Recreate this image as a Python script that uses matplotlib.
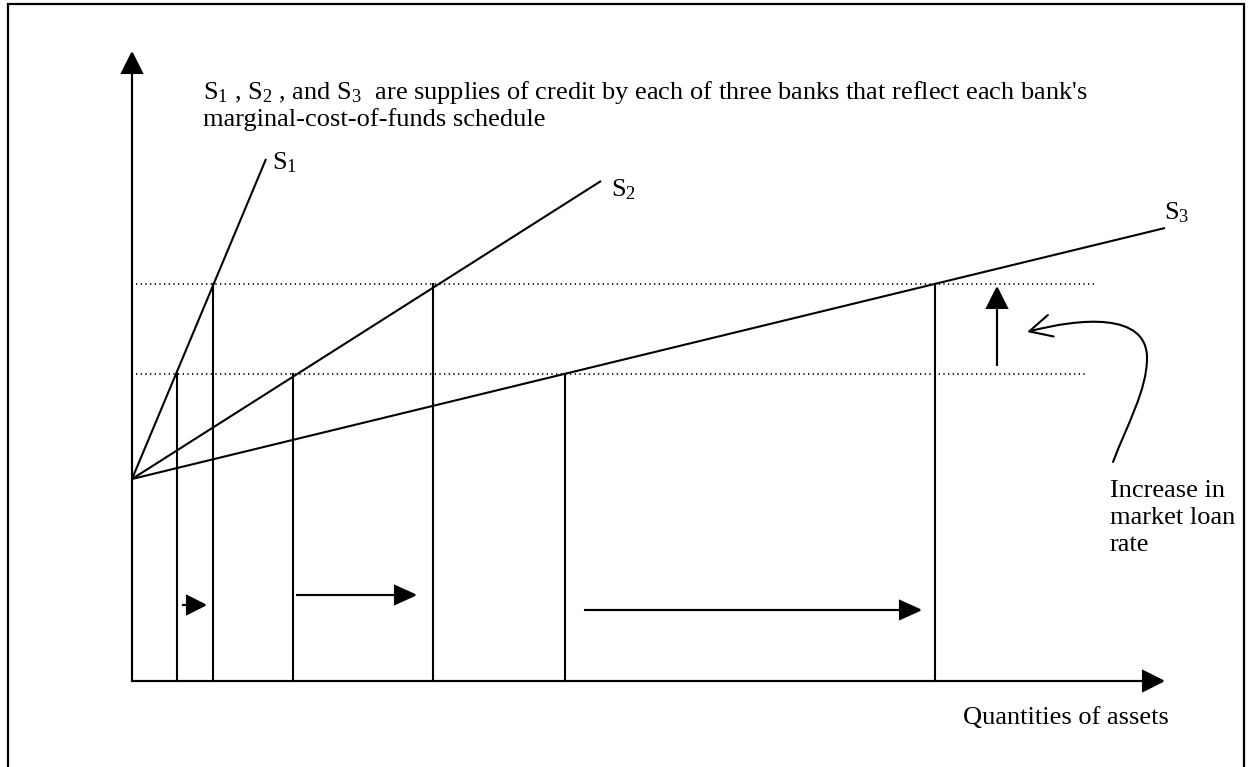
import matplotlib
matplotlib.use("Agg")
import matplotlib.pyplot as plt
from matplotlib.patches import FancyArrowPatch, Rectangle
from matplotlib.path import Path

plt.rcParams['font.family'] = ['Liberation Serif', 'DejaVu Serif']
plt.rcParams['mathtext.fontset'] = 'custom'
plt.rcParams['mathtext.rm'] = 'Liberation Serif'
plt.rcParams['mathtext.it'] = 'Liberation Serif:italic'

# ---- diagram data (units: quantity to the right, rate upward, origin at axes corner) ----
rate_axis_top = 628
qty_axis_end = 1031
intercept_rate = 202
rate_low = 307
rate_high = 397
curve_names = ["S$_1$", "S$_2$", "S$_3$"]
q_at_low = [45, 161, 433]
q_at_high = [81, 301, 803]
curve_end_q = [134, 469, 1033]
curve_end_r = [522, 500, 453]
label_q = [153, 492, 1045]
label_r = [518, 491, 468]
shift_arrow_start = [51, 165, 453]
shift_arrow_end = [73, 283, 788]
shift_arrow_y = [76, 86, 71]
dotted_start = 4
dotted_end = [955, 963]
header_lines = [
    "S$_1$ , S$_2$ , and S$_3$  are supplies of credit by each of three banks that reflect each bank's",
    "marginal-cost-of-funds schedule",
]
note_lines = ["Increase in", "market loan", "rate"]
x_label = "Quantities of assets"

W, H = 1253, 767
fig = plt.figure(figsize=(W / 100, H / 100), dpi=100)
ax = fig.add_axes([0, 0, 1, 1])
ox, oy = 132, 681  # pixel location of origin
ax.set_xlim(-ox, W - ox)
ax.set_ylim(oy - H, oy)
ax.axis('off')

lw = 1.5
# border
ax.add_patch(Rectangle((8 - ox, oy - 780), 1236, 780 - 4, fill=False, lw=1.6, ec='black'))

# axes arrows
ax.arrow(0, 0, 0, rate_axis_top, head_width=20, head_length=20, length_includes_head=True,
         fc='black', ec='black', lw=lw)
ax.arrow(0, 0, qty_axis_end, 0, head_width=20, head_length=20, length_includes_head=True,
         fc='black', ec='black', lw=lw)

# dotted rate levels
for r, xe in zip([rate_low, rate_high], dotted_end):
    ax.plot([dotted_start, xe], [r, r], color='black', lw=1.2, linestyle=(0, (0.8, 2.0)))

# supply curves
for i in range(3):
    ax.plot([0, curve_end_q[i]], [intercept_rate, curve_end_r[i]], color='black', lw=lw,
            solid_capstyle='butt')
    ax.text(label_q[i], label_r[i], curve_names[i], fontsize=19, ha='center', va='center')

# vertical quantity lines
for qs, r in [(q_at_low, rate_low), (q_at_high, rate_high)]:
    for q in qs:
        ax.plot([q, q], [0, r], color='black', lw=lw)

# horizontal shift arrows
for i in range(3):
    x0 = shift_arrow_start[i]
    x1 = shift_arrow_end[i]
    hl = 18 if i == 0 else 20
    ax.arrow(x0, shift_arrow_y[i], x1 - x0, 0, head_width=18, head_length=hl,
             length_includes_head=True, fc='black', ec='black', lw=lw)

# vertical rate increase arrow
ax.arrow(865, rate_low + 9, 0, (rate_high - 4) - (rate_low + 9), head_width=20, head_length=20,
         length_includes_head=True, fc='black', ec='black', lw=lw)

# curved pointer arrow
pts = [(1113, 462), (1127, 425), (1147, 390), (1147, 358), (1147, 312), (1080, 318), (1027, 332)]
verts = [(x - ox, oy - y) for x, y in pts]
codes = [Path.MOVETO] + [Path.CURVE4] * 6
arr = FancyArrowPatch(path=Path(verts, codes), arrowstyle='->,head_length=1.0,head_width=0.5',
                      mutation_scale=16, color='black', lw=lw)
ax.add_patch(arr)

# texts
for k, line in enumerate(note_lines):
    ax.text(1110 - ox, oy - (491 + 27 * k), line, fontsize=19, ha='left', va='center')
ax.text(963 - ox, oy - 718, x_label, fontsize=19, ha='left', va='center')
ax.text(203 - ox, oy - 93, header_lines[0], fontsize=19, ha='left', va='center')
ax.text(203 - ox, oy - 120, header_lines[1], fontsize=19, ha='left', va='center')

fig.savefig("out.png", dpi=100)
